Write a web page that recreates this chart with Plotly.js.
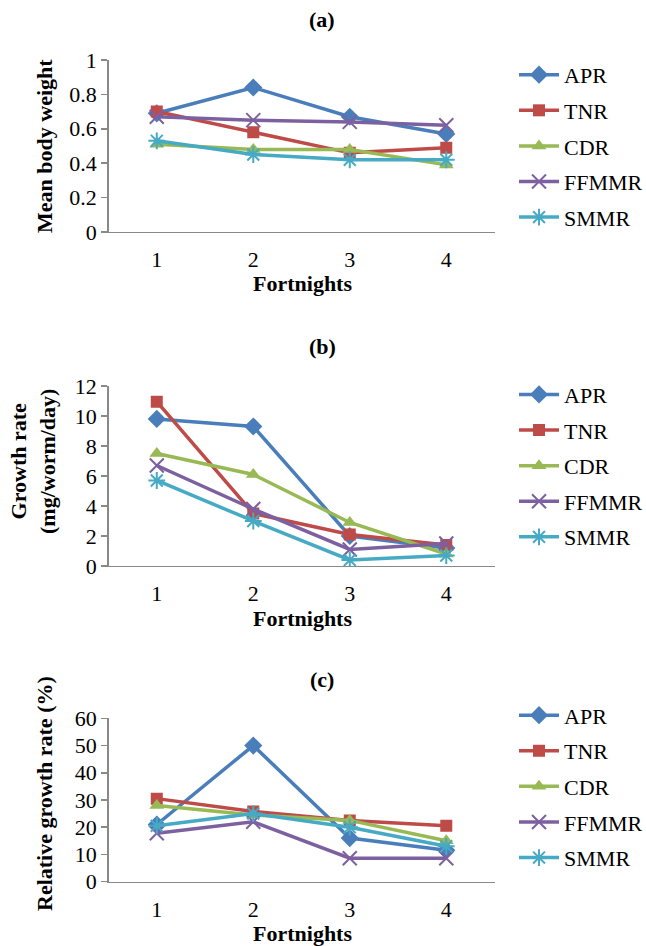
<!DOCTYPE html>
<html>
<head>
<meta charset="utf-8">
<script src="https://cdn.plot.ly/plotly-3.0.1.min.js"></script>
<style>html,body{margin:0;padding:0;background:#fff;}#chart{width:646px;height:946px;}</style>
</head>
<body>
<div id="chart"></div>
<script>
// ---- data ----
const fortnights = ['1', '2', '3', '4'];
const seriesNames = ['APR', 'TNR', 'CDR', 'FFMMR', 'SMMR'];

// (a) Mean body weight
const bodyAPR   = [0.69, 0.84, 0.67, 0.57];
const bodyTNR   = [0.70, 0.58, 0.46, 0.49];
const bodyCDR   = [0.51, 0.48, 0.48, 0.39];
const bodyFFMMR = [0.67, 0.65, 0.64, 0.62];
const bodySMMR  = [0.53, 0.45, 0.42, 0.42];

// (b) Growth rate (mg/worm/day)
const growthAPR   = [9.8, 9.3, 2.0, 1.2];
const growthTNR   = [10.95, 3.5, 2.1, 1.4];
const growthCDR   = [7.5, 6.1, 2.9, 0.8];
const growthFFMMR = [6.7, 3.8, 1.1, 1.5];
const growthSMMR  = [5.7, 3.0, 0.4, 0.7];

// (c) Relative growth rate (%)
const relAPR   = [21, 50, 16, 11.5];
const relTNR   = [30.5, 25.8, 22.5, 20.5];
const relCDR   = [28, 24.5, 22.5, 15];
const relFFMMR = [17.8, 22, 8.6, 8.6];
const relSMMR  = [20.5, 25, 20, 13];

// ---- styles ----
const colors  = ['#4A7EBB', '#BE4B48', '#98B954', '#7D60A0', '#46AAC5'];
const symbols = ['diamond', 'square', 'triangle-up', 'x-thin-open', 'asterisk-open'];
const sizes   = [14, 12, 13, 14, 14];

const panels = [
  {vals: [bodyAPR, bodyTNR, bodyCDR, bodyFFMMR, bodySMMR], yaxis: 'y', legend: 'legend'},
  {vals: [growthAPR, growthTNR, growthCDR, growthFFMMR, growthSMMR], yaxis: 'y2', legend: 'legend2'},
  {vals: [relAPR, relTNR, relCDR, relFFMMR, relSMMR], yaxis: 'y3', legend: 'legend3'}
];

const traces = [];
panels.forEach((p, pi) => {
  p.vals.forEach((v, i) => {
    const open = symbols[i].indexOf('open') >= 0;
    traces.push({
      type: 'scatter', mode: 'lines+markers',
      x: fortnights, y: v, name: seriesNames[i],
      xaxis: pi === 0 ? 'x' : 'x' + (pi + 1), yaxis: p.yaxis,
      legend: p.legend, legendgroup: 'g' + pi + '_' + i,
      line: {color: colors[i], width: 3.5},
      marker: {symbol: symbols[i], size: sizes[i], color: colors[i],
               line: {color: colors[i], width: open ? 2 : 0}}
    });
  });
});

const serif = '"Liberation Serif", "Times New Roman", Times, serif';
const fs = 22;
const xdom = [0.168, 0.7655];
function xax(anchor) {
  return {domain: xdom, anchor: anchor, type: 'category', categoryarray: fortnights, range: [-0.5, 3.5],
    showline: true, linecolor: '#898989', linewidth: 1.5, ticks: '', showgrid: false, zeroline: false,
    ticklabelstandoff: 7, tickfont: {family: serif, size: fs, color: '#000'}, automargin: false, fixedrange: true};
}
function yax(anchor, dom, range, dtick) {
  return {domain: dom, anchor: anchor, range: range, dtick: dtick, tick0: 0,
    showline: true, linecolor: '#898989', linewidth: 1.5, ticks: 'outside', ticklen: 6, tickcolor: '#898989', tickwidth: 1.5,
    showgrid: false, zeroline: false, tickfont: {family: serif, size: fs, color: '#000'}, automargin: false, fixedrange: true};
}
function leg(y) {
  return {x: 0.7957, y: y, xanchor: 'left', yanchor: 'top', bgcolor: 'rgba(0,0,0,0)',
    font: {family: serif, size: fs, color: '#000'}, tracegroupgap: 4, itemwidth: 40};
}
function ann(text, x, y, rot) {
  return {text: text, x: x, y: y, xref: 'paper', yref: 'paper', showarrow: false,
    xanchor: 'center', yanchor: 'middle', textangle: rot || 0,
    font: {family: serif, size: fs, color: '#000'}};
}

const layout = {
  width: 646, height: 946,
  margin: {l: 0, r: 0, t: 0, b: 0, autoexpand: false},
  paper_bgcolor: '#fff', plot_bgcolor: '#fff',
  font: {family: serif},
  showlegend: true,
  xaxis: xax('y'), xaxis2: xax('y2'), xaxis3: xax('y3'),
  yaxis: yax('x', [0.7548, 0.9366], [0, 1], 0.2),
  yaxis2: yax('x2', [0.4017, 0.5920], [0, 12], 2),
  yaxis3: yax('x3', [0.0680, 0.2407], [0, 60], 10),
  legend: leg(0.943), legend2: leg(0.605), legend3: leg(0.266),
  annotations: [
    ann('<b>(a)</b>', 0.4985, 0.9789),
    ann('<b>(b)</b>', 0.4985, 0.6332),
    ann('<b>(c)</b>', 0.4985, 0.2812),
    ann('<b>Fortnights</b>', 0.4675, 0.6998),
    ann('<b>Fortnights</b>', 0.4675, 0.3457),
    ann('<b>Fortnights</b>', 0.4675, 0.0137),
    ann('<b>Mean body weight</b>', 0.0697, 0.8457, -90),
    ann('<b>Growth rate<br>(mg/worm/day)</b>', 0.0519, 0.5122, -90),
    ann('<b>Relative growth rate (%)</b>', 0.0697, 0.1607, -90)
  ]
};

Plotly.newPlot('chart', traces, layout, {displayModeBar: false, staticPlot: true});
</script>
</body>
</html>
